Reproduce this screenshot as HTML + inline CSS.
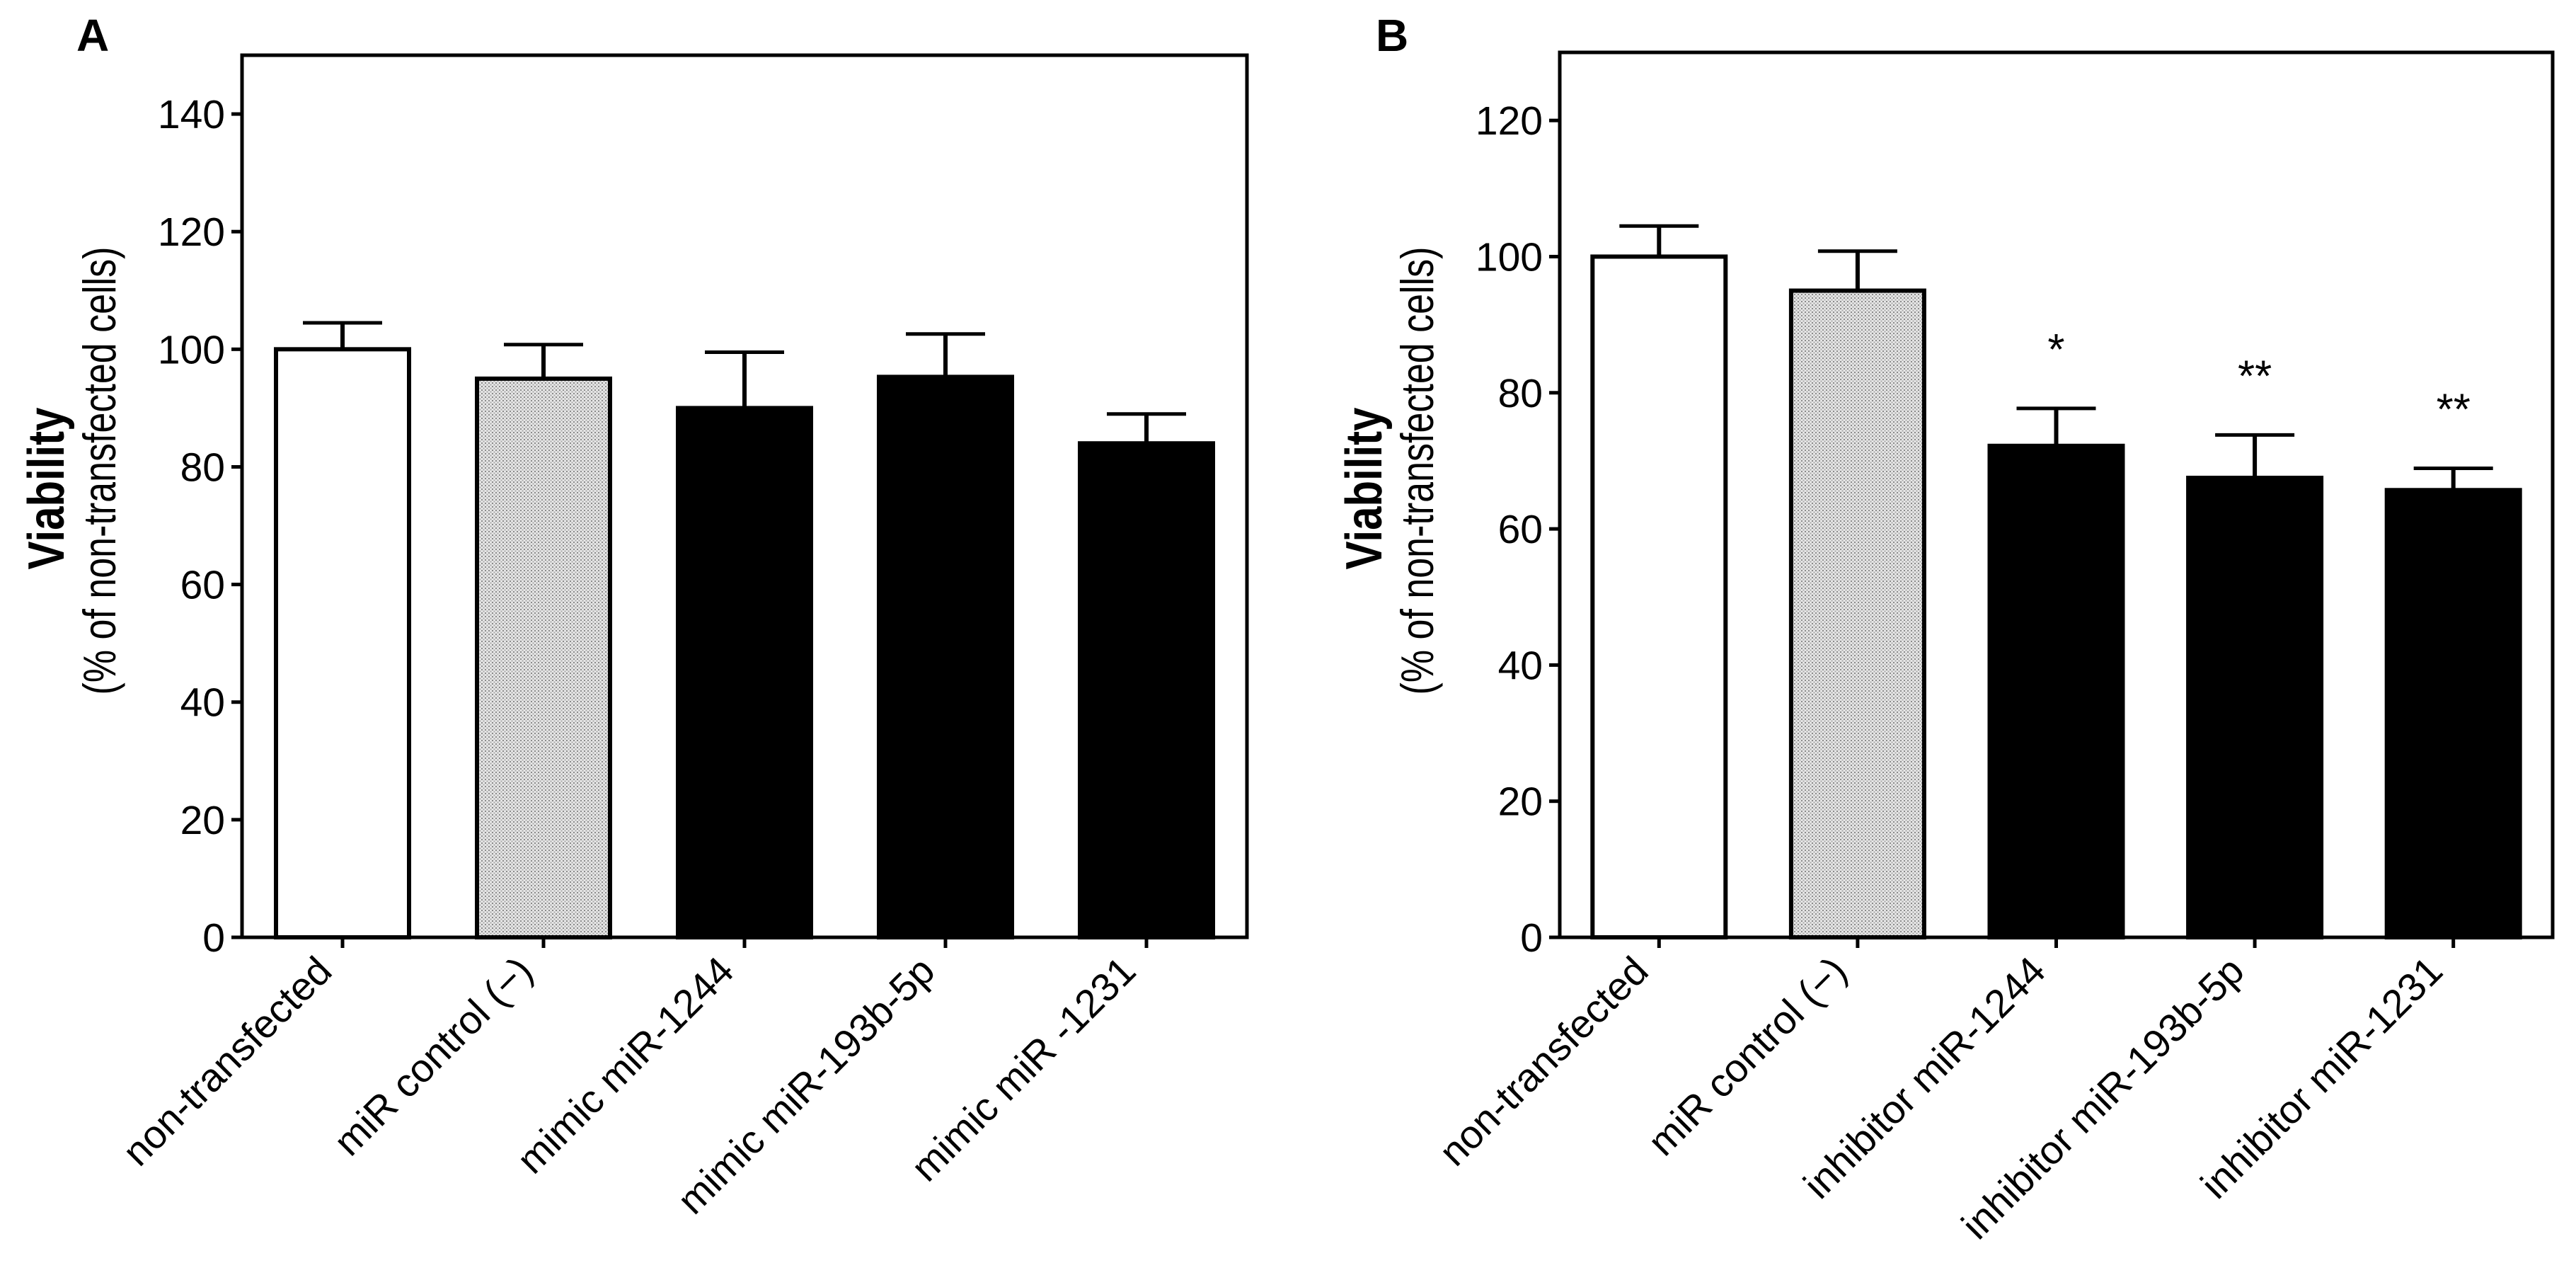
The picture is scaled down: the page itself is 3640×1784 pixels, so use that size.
<!DOCTYPE html>
<html><head><meta charset="utf-8"><style>
html,body{margin:0;padding:0;background:#fff;}
svg{display:block;font-family:"Liberation Sans",Arial,sans-serif;}
</style></head><body>
<svg id="fig" width="3640" height="1784" viewBox="0 0 3640 1784" xmlns="http://www.w3.org/2000/svg">
<defs>
<pattern id="dots" width="5" height="5" patternUnits="userSpaceOnUse">
<rect width="5" height="5" fill="#e6e6e6"/>
<rect x="0" y="0" width="2" height="2" fill="#8a8a8a"/>
<rect x="2.5" y="2.5" width="2" height="2" fill="#a8a8a8"/>
</pattern>
</defs>
</svg>
<script>
const catsA = ["non-transfected","miR control (\u2212)","mimic miR-1244","mimic miR-193b-5p","mimic miR -1231"];
const valsA = [100,95,90,95.3,84];
const errsA = [4.5,5.8,9.5,7.3,5];
const starsA = ["","","","",""];
const ticksA = [0,20,40,60,80,100,120,140];
const catsB = ["non-transfected","miR control (\u2212)","inhibitor miR-1244","inhibitor miR-193b-5p","inhibitor miR-1231"];
const valsB = [100,95,72.2,67.5,65.7];
const errsB = [4.5,5.8,5.5,6.3,3.2];
const starsB = ["","","*","**","**"];
const ticksB = [0,20,40,60,80,100,120];
const fills = ["#fff","url(#dots)","#000","#000","#000"];

const NS="http://www.w3.org/2000/svg";
const svg=document.getElementById('fig');
function mk(tag,attrs,parent){const e=document.createElementNS(NS,tag);for(const k in attrs)e.setAttribute(k,attrs[k]);(parent||svg).appendChild(e);return e;}

function panel(p){
  const g=mk('g',{});
  
  
  const L=p.left,R=p.right,T=p.top,B=1324;
  const y=v=>B-(v/p.max)*(B-T);
  const band=(R-L)/p.cats.length;
  const x=i=>L+band*(i+0.5);
  const bw=188;
  const lt=mk('text',{x:p.letterX,y:72,'font-size':64,'font-weight':'bold'},g);lt.textContent=p.letter;
  
  
  p.vals.forEach((v,i)=>{
    const cx=x(i);
    const eb=mk('line',{x1:cx,x2:cx,y1:y(v),y2:y(v+p.errs[i]),stroke:'#000','stroke-width':6},g);
    
    
    const cap=mk('line',{x1:cx-56,x2:cx+56,y1:y(v+p.errs[i]),y2:y(v+p.errs[i]),stroke:'#000','stroke-width':5},g);
    
    
    const r=mk('rect',{x:cx-bw/2,y:y(v),width:bw,height:B-y(v),fill:fills[i],stroke:'#000','stroke-width':6},g);
    
    
    if(p.stars[i]){
      const s=mk('text',{x:cx,y:y(v+p.errs[i])-62,'font-size':62,'text-anchor':'middle'},g);s.textContent=p.stars[i];
      
      
    }
    const tk=mk('line',{x1:cx,x2:cx,y1:B,y2:B+15,stroke:'#000','stroke-width':5},g);
    
    
    const lb=mk('text',{x:0,y:0,'font-size':56,'text-anchor':'end',transform:`translate(${cx-12},1375) rotate(-45)`},g);lb.textContent=p.cats[i];
    
    
  });
  const fr=mk('rect',{x:L,y:T,width:R-L,height:B-T,fill:'none',stroke:'#000','stroke-width':5},g);
  
  
  p.ticks.forEach(t=>{
    const tl=mk('line',{x1:L-15,x2:L,y1:y(t),y2:y(t),stroke:'#000','stroke-width':5},g);
    
    
    const tt=mk('text',{x:L-24,y:y(t)+20,'font-size':57,'text-anchor':'end'},g);tt.textContent=t;
    
    
  });
  const t1=mk('text',{x:0,y:0,'font-size':60,'font-weight':'bold','text-anchor':'middle',transform:`translate(${p.titleX},690) rotate(-90) scale(1,1.2)`},g);t1.textContent='Viability';
  
  
  const t2=mk('text',{x:0,y:0,'font-size':52,'text-anchor':'middle',transform:`translate(${p.titleX+73},665) rotate(-90) scale(1,1.25)`},g);t2.textContent='(% of non-transfected cells)';
  
  
}
panel({name:'panel-a',letter:'A',letterX:108,left:342,right:1762,top:78,max:150,cats:catsA,vals:valsA,errs:errsA,stars:starsA,ticks:ticksA,titleX:90});
panel({name:'panel-b',letter:'B',letterX:1944,left:2204,right:3607,top:74,max:130,cats:catsB,vals:valsB,errs:errsB,stars:starsB,ticks:ticksB,titleX:1952});
</script>
</body></html>
